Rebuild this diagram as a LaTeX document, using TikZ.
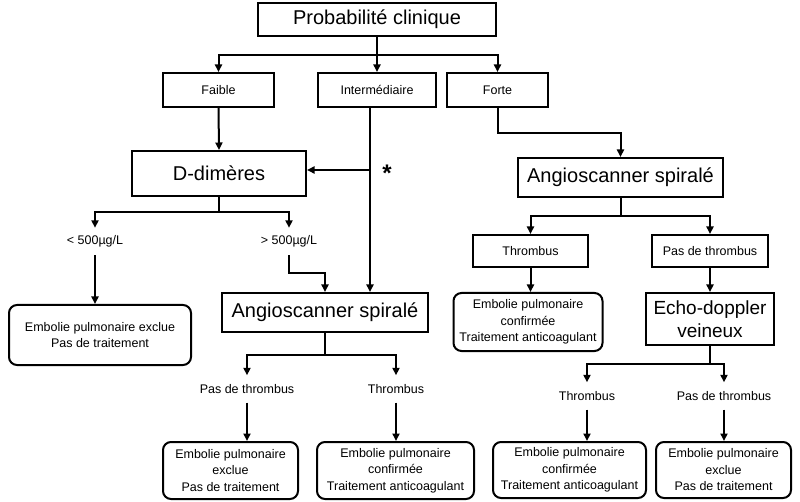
\documentclass[tikz,border=0pt]{standalone}
\usepackage{fontspec}
\setmainfont{Liberation Sans}
\usetikzlibrary{arrows.meta}

\begin{document}
\begin{tikzpicture}[x=1pt, y=-1pt,
    boite/.style={draw, line width=2pt, inner sep=0pt, align=center, font=\fontsize{12.5}{16.5}\selectfont},
    grande/.style={boite, font=\fontsize{20}{23}\selectfont},
    resultat/.style={boite, rounded corners=8pt},
    etiquette/.style={inner sep=0pt, minimum height=27pt, font=\fontsize{12.5}{14}\selectfont},
    fleche/.style={line width=2pt, -{Triangle[length=7.5pt,width=7pt]}},
    trait/.style={line width=2pt}]

    \useasboundingbox (0,0) rectangle (800,502);

    % niveau 1 : probabilite clinique
    \node[grande, minimum width=238, minimum height=33] (prob) at (377,19.5) {Probabilité clinique};

    \node[boite, minimum width=111, minimum height=34] (faible) at (218.5,90) {Faible};
    \node[boite, minimum width=118, minimum height=34] (inter) at (377,90) {Intermédiaire};
    \node[boite, minimum width=101, minimum height=34] (forte) at (497.5,90) {Forte};

    \coordinate (j1) at (377,55);
    \draw[trait] (prob.south) -- (j1);
    \draw[fleche] (j1) -| (faible.north);
    \draw[fleche] (j1) -- (inter.north);
    \draw[fleche] (j1) -| (forte.north);

    % branche gauche : D-dimeres
    \node[grande, minimum width=174, minimum height=45] (ddim) at (219,173.5) {D-dimères};
    \draw[fleche] (faible.south) -- (ddim.north);

    \node[etiquette] (lt500) at (95,241.5) {< 500µg/L};
    \node[etiquette] (gt500) at (289,241.5) {> 500µg/L};
    \coordinate (j2) at (219,212);
    \draw[trait] (ddim.south) -- (j2);
    \draw[fleche] (j2) -| (lt500.north);
    \draw[fleche] (j2) -| (gt500.north);

    \node[resultat, minimum width=182, minimum height=60] (exclA) at (100,335)
        {Embolie pulmonaire exclue\\Pas de traitement};
    \draw[fleche] (lt500.south) -- (lt500.south |- exclA.north);

    % angioscanner du milieu
    \node[grande, minimum width=206, minimum height=39] (angioA) at (325,312.5) {Angioscanner spiralé};
    \draw[fleche] (gt500.south) -- ++(0,18) -| (angioA.north);

    % intermediaire : vers D-dimeres (*) ou angioscanner
    \coordinate (st) at (370,170);
    \draw[fleche] ([xshift=-7pt]inter.south) -- ([xshift=-7pt]inter.south |- angioA.north);
    \draw[fleche] (st) -- (st -| ddim.east);
    \node[font=\fontsize{24}{24}\selectfont\bfseries, inner sep=0pt] (etoile) at (387,173) {*};

    \node[etiquette] (pasA) at (247,389) {Pas de thrombus};
    \node[etiquette] (thrA) at (396,389) {Thrombus};
    \coordinate (j3) at (325,355);
    \draw[trait] (angioA.south) -- (j3);
    \draw[fleche] (j3) -| (pasA.north);
    \draw[fleche] (j3) -| (thrA.north);

    \node[resultat, minimum width=135, minimum height=57] (exclB) at (230.5,470.5)
        {Embolie pulmonaire\\exclue\\Pas de traitement};
    \node[resultat, minimum width=157, minimum height=57] (confB) at (395.5,470.5)
        {Embolie pulmonaire\\confirmée\\Traitement anticoagulant};
    \draw[fleche] (pasA.south) -- (pasA.south |- exclB.north);
    \draw[fleche] (thrA.south) -- (thrA.south |- confB.north);

    % branche droite : probabilite forte
    \node[grande, minimum width=205, minimum height=39] (angioR) at (620.5,177.5) {Angioscanner spiralé};
    \draw[fleche] (forte.south) -- ++(0,25) -| (angioR.north);

    \node[boite, minimum width=115, minimum height=32] (thrR) at (530.5,251) {Thrombus};
    \node[boite, minimum width=116, minimum height=32] (pasR) at (710,251) {Pas de thrombus};
    \coordinate (j4) at (620.5,216);
    \draw[trait] (angioR.south) -- (j4);
    \draw[fleche] (j4) -| (thrR.north);
    \draw[fleche] (j4) -| (pasR.north);

    \node[resultat, minimum width=149, minimum height=58] (confR) at (528,322)
        {Embolie pulmonaire\\confirmée\\Traitement anticoagulant};
    \draw[fleche] (thrR.south) -- (thrR.south |- confR.north);

    \node[grande, font=\fontsize{19}{23}\selectfont, minimum width=128, minimum height=52] (echo) at (710,319)
        {Echo-doppler\\veineux};
    \draw[fleche] (pasR.south) -- (echo.north);

    \node[etiquette] (thrE) at (587,396) {Thrombus};
    \node[etiquette] (pasE) at (724,396) {Pas de thrombus};
    \coordinate (j5) at (710,364);
    \draw[trait] (echo.south) -- (j5);
    \draw[fleche] (j5) -| (thrE.north);
    \draw[fleche] (j5) -| (pasE.north);

    \node[resultat, minimum width=153, minimum height=56] (confE) at (569.5,470)
        {Embolie pulmonaire\\confirmée\\Traitement anticoagulant};
    \node[resultat, minimum width=135, minimum height=56] (exclE) at (723.5,470)
        {Embolie pulmonaire\\exclue\\Pas de traitement};
    \draw[fleche] (thrE.south) -- (thrE.south |- confE.north);
    \draw[fleche] (pasE.south) -- (pasE.south |- exclE.north);
\end{tikzpicture}
\end{document}
